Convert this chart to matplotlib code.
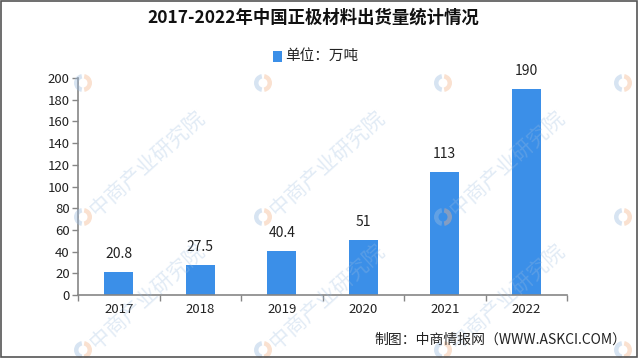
import matplotlib
matplotlib.use("Agg")
import matplotlib.pyplot as plt
from matplotlib.patches import Rectangle, Wedge

plt.rcParams['font.family'] = ['Noto Sans CJK SC', 'DejaVu Sans']

years = ['2017', '2018', '2019', '2020', '2021', '2022']
values = [20.8, 27.5, 40.4, 51, 113, 190]
value_labels = ['20.8', '27.5', '40.4', '51', '113', '190']
yticks = [0, 20, 40, 60, 80, 100, 120, 140, 160, 180, 200]

title = '2017-2022年中国正极材料出货量统计情况'
legend_label = '单位：万吨'
source = '制图：中商情报网（WWW.ASKCI.COM）'
watermark = '中商产业研究院'

bar_color = '#3b8fe8'
axis_color = '#868686'

W, H = 640, 358
fig = plt.figure(figsize=(6.4, 3.58), dpi=100)
fig.patch.set_facecolor('white')

# faint watermarks (logo + rotated text), in pixel positions
wm_x = [83, 263, 443, 623]
wm_y = [83, 217, 350]
for wx in wm_x:
    for wy in wm_y:
        cx, cy = wx / 100, (H - wy) / 100
        fig.patches.append(Wedge((cx, cy), 0.09, 100, 260, width=0.045,
                                 transform=fig.dpi_scale_trans,
                                 facecolor='#9dbde0', edgecolor='none',
                                 alpha=0.4, zorder=0))
        fig.patches.append(Wedge((cx, cy), 0.09, -80, 80, width=0.045,
                                 transform=fig.dpi_scale_trans,
                                 facecolor='#f3b48a', edgecolor='none',
                                 alpha=0.4, zorder=0))
        # only texts that stay fully inside the picture
        if wy > 150 and wx < 500:
            fig.text((wx + 10) / W, 1 - (wy - 4) / H, watermark,
                     rotation=42, rotation_mode='anchor', ha='left', va='center',
                     fontsize=15, color='#9dbde0', alpha=0.3, zorder=0)

ax = fig.add_axes([78/640, 1-295/358, (567-78)/640, (295-78)/358])
ax.patch.set_alpha(0)
x = list(range(len(years)))
bars = ax.bar(x, values, width=0.36, color=bar_color, zorder=2)

ax.set_xlim(-0.5, len(years) - 0.5)
ax.set_ylim(0, 200)
ax.set_yticks(yticks)
ax.set_yticklabels([str(t) for t in yticks], fontsize=9.5, color='#222222')
ax.set_xticks(x)
ax.set_xticklabels(years, fontsize=9.5, color='#222222')
ax.tick_params(axis='x', length=0, pad=6)
ax.tick_params(axis='y', length=4, width=1, color=axis_color, pad=2)
ax.set_xticks([i - 0.5 for i in range(len(years) + 1)], minor=True)
ax.tick_params(axis='x', which='minor', length=4, width=1, color=axis_color)

for s in ['top', 'right']:
    ax.spines[s].set_visible(False)
for s in ['left', 'bottom']:
    ax.spines[s].set_color(axis_color)
    ax.spines[s].set_linewidth(1.2)

for xi, v, lab in zip(x, values, value_labels):
    ax.annotate(lab, (xi, v), xytext=(0, 8), textcoords='offset points',
                ha='center', va='bottom', fontsize=10, color='#222222')

fig.text(313/640, 1-18/358, title, ha='center', va='center',
         fontsize=12.5, fontweight='bold', color='#111111')

# legend
fig.patches.append(Rectangle((273/640, 1-62/358), 9/640, 11/358,
                             transform=fig.transFigure, facecolor=bar_color,
                             edgecolor='none'))
fig.text(285/640, 1-56/358, legend_label, ha='left', va='center',
         fontsize=10.5, color='#222222')

fig.text(626/640, 1-340/358, source, ha='right', va='center',
         fontsize=10, color='#222222')

# outer frame
fig.patches.append(Rectangle((0.002, 0.003), 0.994, 0.994,
                             transform=fig.transFigure, facecolor='none',
                             edgecolor='#555555', linewidth=1.2))

fig.savefig('out.png', dpi=100, facecolor='white')
